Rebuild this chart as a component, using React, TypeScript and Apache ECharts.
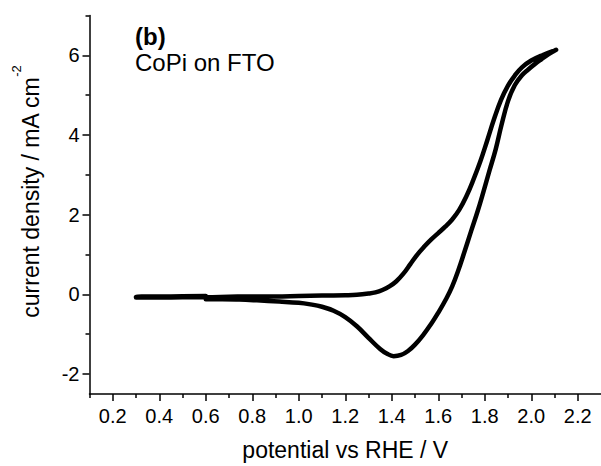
import React, { useEffect, useRef } from "react";
import * as echarts from "echarts";

const FONT = '"Liberation Sans", Arial, Helvetica, sans-serif';

// x tick values (potential vs RHE / V)
const majorX = [0.2, 0.4, 0.6, 0.8, 1.0, 1.2, 1.4, 1.6, 1.8, 2.0, 2.2];
const minorX = [0.1, 0.3, 0.5, 0.7, 0.9, 1.1, 1.3, 1.5, 1.7, 1.9, 2.1];
// y tick values (current density / mA cm-2)
const majorY = [-2, 0, 2, 4, 6];
const minorY = [-1, 1, 3, 5, 7];

// initial short segment (0.6 -> 0.3)
const startV = [0.6, 0.45, 0.3];
const startJ = [-0.04, -0.05, -0.06];

// forward (anodic) scan 0.3 -> 2.107
const fwdV = [0.3, 0.4, 0.5, 0.6, 0.7, 0.8, 0.9, 1.0, 1.1, 1.2, 1.25, 1.3, 1.33, 1.36, 1.39, 1.42, 1.45, 1.48, 1.51, 1.54, 1.57, 1.6, 1.63, 1.66, 1.69, 1.72, 1.75, 1.78, 1.81, 1.84, 1.87, 1.9, 1.93, 1.96, 2.0, 2.05, 2.107];
const fwdJ = [-0.08, -0.08, -0.07, -0.07, -0.06, -0.05, -0.05, -0.04, -0.03, -0.02, -0.01, 0.02, 0.05, 0.11, 0.2, 0.33, 0.52, 0.76, 1.0, 1.2, 1.38, 1.54, 1.7, 1.88, 2.12, 2.45, 2.86, 3.32, 3.85, 4.4, 4.88, 5.24, 5.5, 5.7, 5.87, 6.01, 6.14];

// reverse (cathodic) scan 2.107 -> 0.6
const revV = [2.075, 2.043, 2.015, 1.986, 1.96, 1.929, 1.9, 1.872, 1.847, 1.82, 1.793, 1.77, 1.742, 1.71, 1.686, 1.66, 1.636, 1.6, 1.572, 1.535, 1.5, 1.47, 1.44, 1.408, 1.38, 1.35, 1.3, 1.25, 1.2, 1.15, 1.1, 1.05, 1.0, 0.916, 0.82, 0.744, 0.67, 0.6];
const revJ = [6.03, 5.9, 5.78, 5.64, 5.5, 5.25, 4.85, 4.25, 3.64, 3.1, 2.55, 2.1, 1.6, 1.02, 0.6, 0.2, -0.09, -0.46, -0.72, -1.02, -1.26, -1.42, -1.52, -1.55, -1.49, -1.37, -1.09, -0.8, -0.57, -0.41, -0.31, -0.25, -0.21, -0.18, -0.15, -0.13, -0.12, -0.12];

export default function App() {
  const ref = useRef<HTMLDivElement>(null);
  useEffect(() => {
    if (!ref.current) return;
    const chart = echarts.init(ref.current, null, { renderer: "svg" });
    const data: number[][] = [];
    startV.forEach((v, i) => data.push([v, startJ[i]]));
    fwdV.forEach((v, i) => data.push([v, fwdJ[i]]));
    revV.forEach((v, i) => data.push([v, revJ[i]]));

    const lineStyle = { color: "#000", width: 1.5 };
    chart.setOption({
      animation: false,
      textStyle: { fontFamily: FONT, color: "#000" },
      grid: { left: 89.5, right: -2.4, top: 15.5, bottom: 69.5, containLabel: false },
      xAxis: [
        {
          type: "value",
          min: 0.1,
          max: 2.3,
          position: "bottom",
          axisLine: { show: true, onZero: false, lineStyle },
          axisTick: { show: true, inside: false, length: 7, lineStyle, customValues: majorX },
          axisLabel: {
            show: true,
            customValues: majorX,
            formatter: (v: number) => v.toFixed(1),
            color: "#000",
            fontSize: 20,
            fontFamily: FONT,
            margin: 12,
          },
          splitLine: { show: false },
          name: "potential vs RHE / V",
          nameLocation: "middle",
          nameGap: 44,
          nameTextStyle: { fontSize: 23, fontFamily: FONT, color: "#000" },
        },
        {
          type: "value",
          min: 0.1,
          max: 2.3,
          position: "bottom",
          axisLine: { show: false, onZero: false },
          axisTick: { show: true, inside: false, length: 4, lineStyle, customValues: minorX },
          axisLabel: { show: false },
          splitLine: { show: false },
        },
      ],
      yAxis: [
        {
          type: "value",
          min: -2.5,
          max: 7,
          position: "left",
          axisLine: { show: true, onZero: false, lineStyle },
          axisTick: { show: true, inside: false, length: 7, lineStyle, customValues: majorY },
          axisLabel: {
            show: true,
            customValues: majorY,
            formatter: (v: number) => String(v),
            color: "#000",
            fontSize: 20,
            fontFamily: FONT,
            margin: 10,
          },
          splitLine: { show: false },
          name: "{m|current density / mA cm}{s|-2}",
          nameLocation: "middle",
          nameGap: 47,
          nameTextStyle: {
            padding: [0, 0, 0, 26],
            rich: {
              m: { fontSize: 23, fontFamily: FONT, color: "#000", lineHeight: 23, verticalAlign: "bottom" },
              s: { fontSize: 13, fontFamily: FONT, color: "#000", lineHeight: 13, padding: [0, 0, 20, 0], verticalAlign: "bottom" },
            },
          },
        },
        {
          type: "value",
          min: -2.5,
          max: 7,
          position: "left",
          axisLine: { show: false, onZero: false },
          axisTick: { show: true, inside: false, length: 4, lineStyle, customValues: minorY },
          axisLabel: { show: false },
          splitLine: { show: false },
        },
      ],
      graphic: [
        { type: "text", left: 135, top: 24, style: { text: "(b)", font: `bold 24px ${FONT}`, fill: "#000" } },
        { type: "text", left: 135, top: 50, style: { text: "CoPi on FTO", font: `24px ${FONT}`, fill: "#000" } },
      ],
      series: [
        {
          type: "line",
          xAxisIndex: 0,
          yAxisIndex: 0,
          data,
          showSymbol: false,
          symbol: "none",
          smooth: 0.4,
          silent: true,
          lineStyle: { color: "#000", width: 4.5, cap: "round", join: "round" },
        },
      ],
    });
    return () => chart.dispose();
  }, []);
  return <div ref={ref} style={{ position: "absolute", left: 0, top: 0, width: 601, height: 466 }} />;
}
